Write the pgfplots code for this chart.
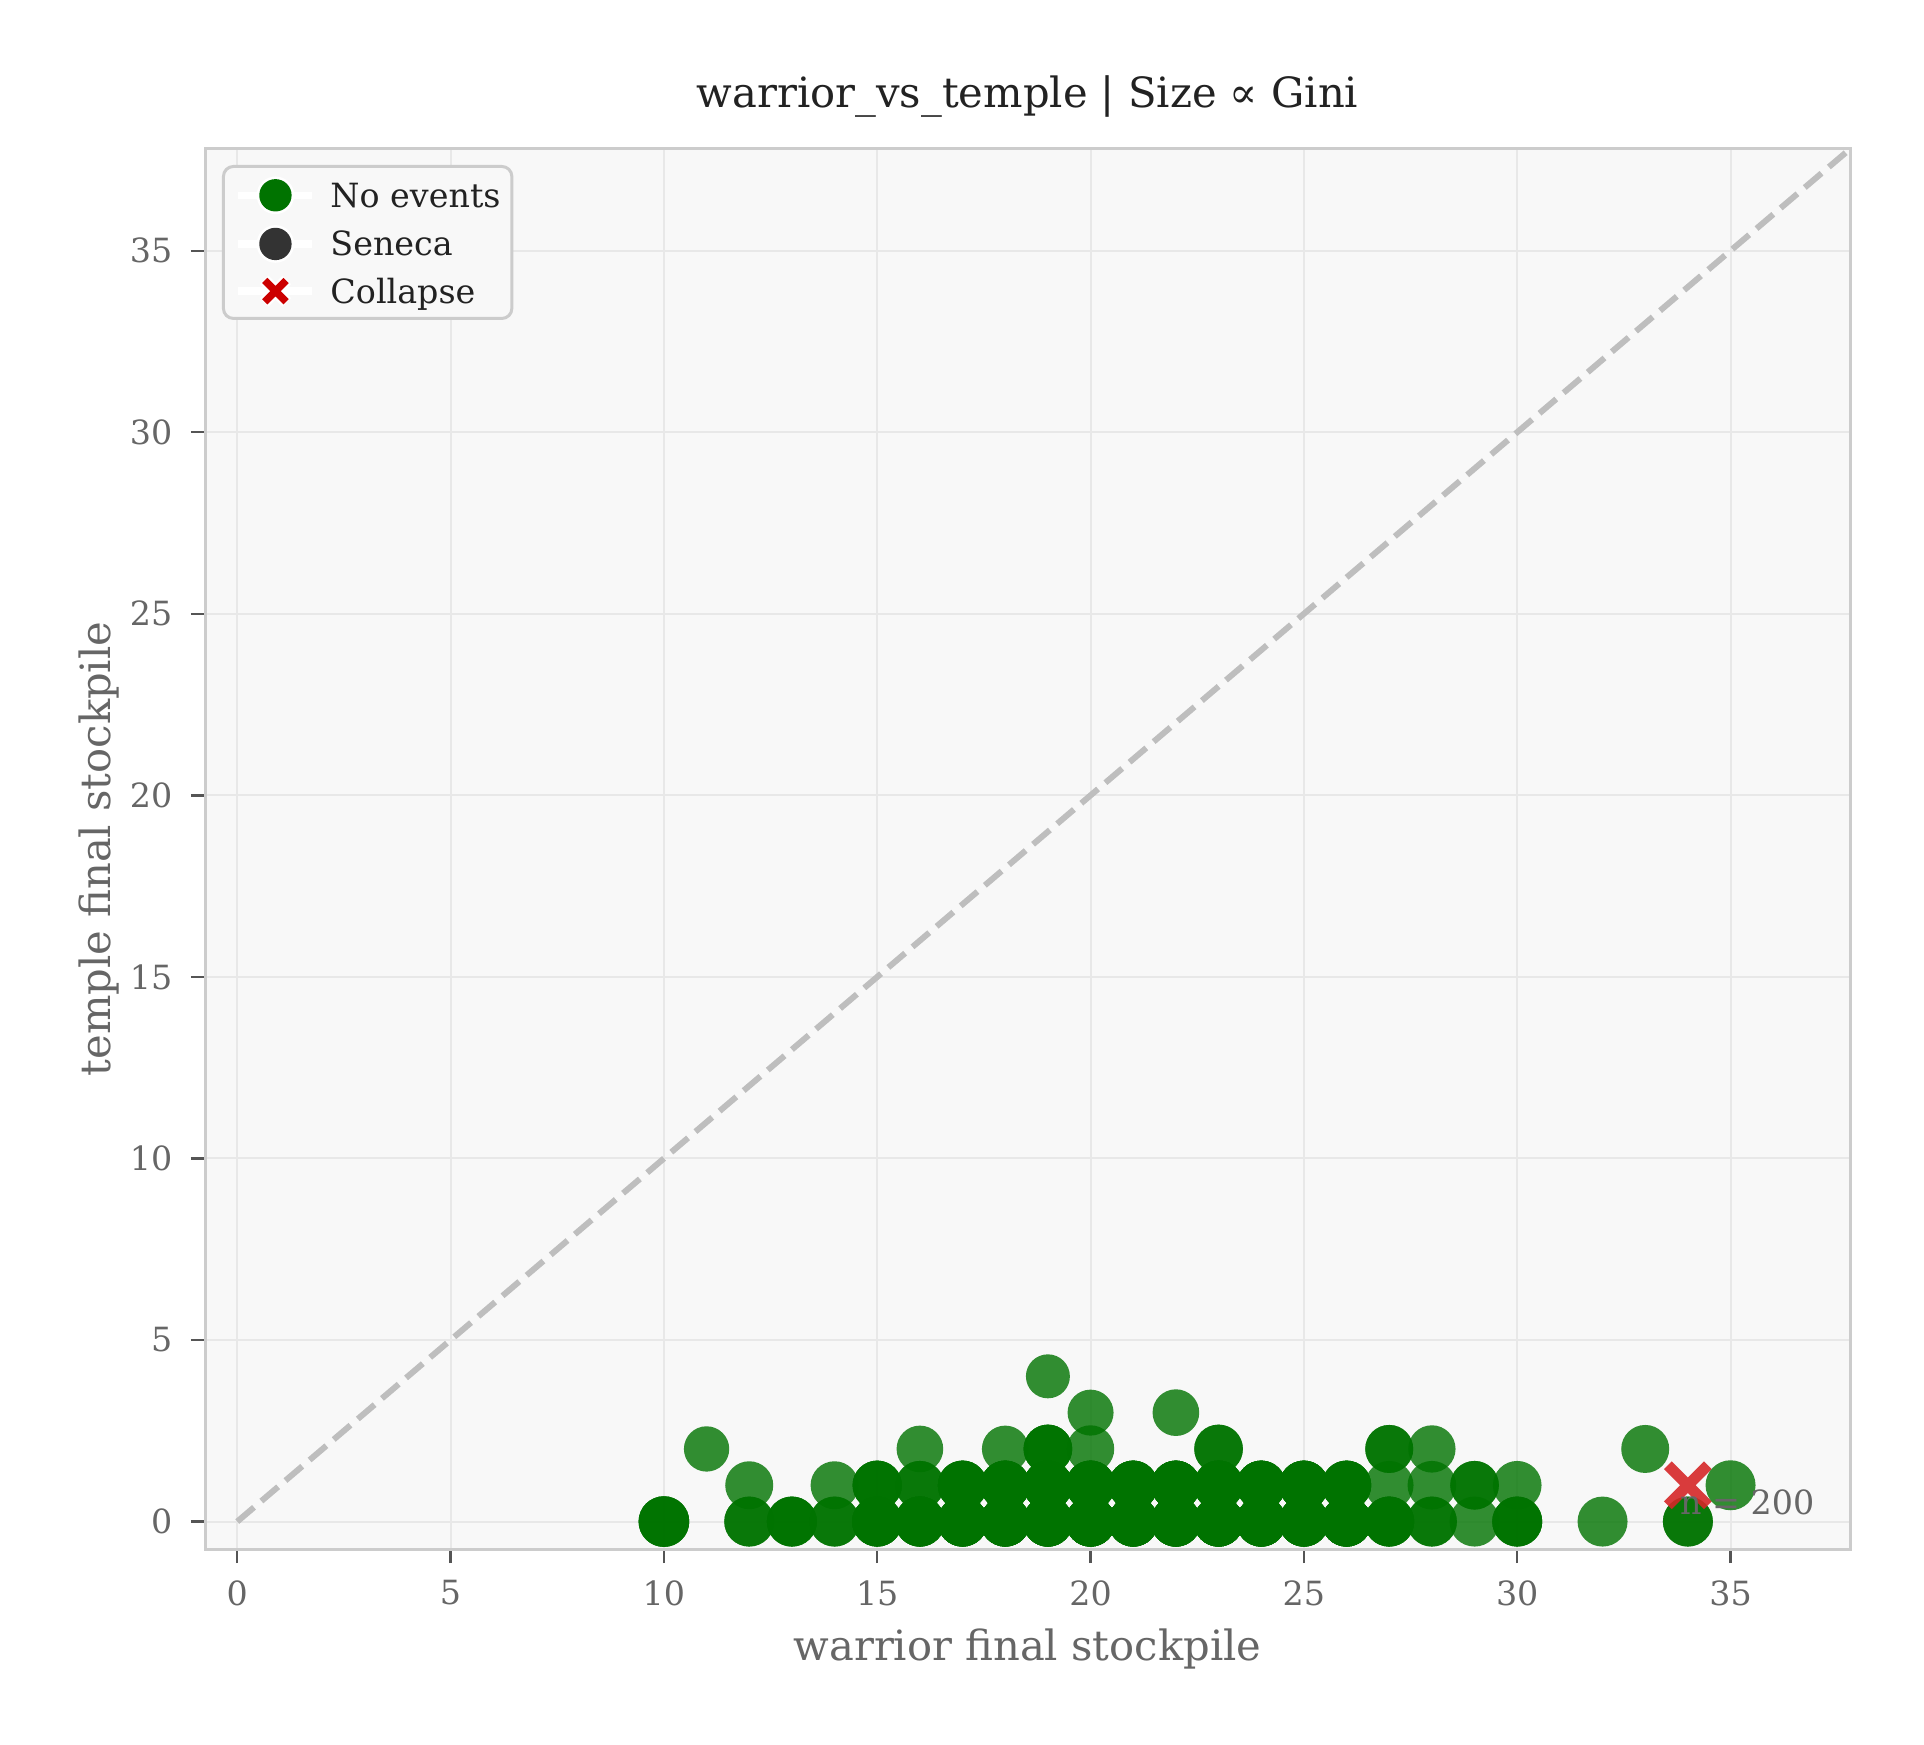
\documentclass[border=0pt]{standalone}
\usepackage{pgfplots}
\pgfplotsset{compat=1.18}
\usepackage{fontspec}
\setmainfont{DejaVu Serif}
\definecolor{ngreen}{RGB}{0,115,0}
\definecolor{cred}{RGB}{214,39,40}
\definecolor{lred}{RGB}{204,0,0}
\definecolor{sgray}{RGB}{51,51,51}
\definecolor{bggray}{RGB}{248,248,248}
\definecolor{spinegray}{RGB}{204,204,204}
\definecolor{gridgray}{RGB}{232,232,232}
\definecolor{tickgray}{RGB}{85,85,85}
\definecolor{labgray}{RGB}{102,102,102}
\definecolor{titlegray}{RGB}{34,34,34}
\definecolor{diaggray}{RGB}{190,190,190}
\begin{document}
\begin{tikzpicture}
\fill[white] (-61.5pt,-58.5pt) rectangle (515.7pt,464.7pt);
\begin{axis}[
  at={(0,0)}, anchor=south west,
  scale only axis, width=493.5pt, height=420pt,
  xmin=-0.756, xmax=37.8, ymin=-0.756, ymax=37.8,
  axis background/.style={fill=bggray},
  axis line style={draw=spinegray, line width=0.9pt},
  grid=major, major grid style={draw=gridgray, line width=0.6pt},
  tick pos=left, tick align=outside, major tick length=4.2pt,
  tick style={draw=tickgray, line width=0.7pt},
  xtick={0,5,10,15,20,25,30,35}, xticklabels={0,5,10,15,20,25,30,35},
  ytick={0,5,10,15,20,25,30,35}, yticklabels={0,5,10,15,20,25,30,35},
  ticklabel style={font=\fontsize{10}{12}\selectfont, text=labgray, inner sep=0pt},
  xticklabel style={anchor=north, yshift=-5.1pt},
  yticklabel style={anchor=east, xshift=-5.4pt},
  title={warrior\_vs\_temple | Size ∝ Gini},
  every axis title/.style={at={(axis description cs:0.5,1.0293)}, anchor=base, inner sep=0pt, font=\fontsize{12.5}{15}\selectfont, text=titlegray},
  xlabel={warrior final stockpile},
  ylabel={temple final stockpile},
  every axis x label/.style={at={(axis description cs:0.5,-0.0795)}, anchor=base, inner sep=0pt, font=\fontsize{12.5}{15}\selectfont, text=labgray},
  every axis y label/.style={at={(axis description cs:-0.0577,0.5)}, rotate=90, anchor=base, inner sep=0pt, font=\fontsize{12.5}{15}\selectfont, text=labgray},
  legend style={at={(axis description cs:0.0103,0.9886)}, anchor=north west,
    draw=spinegray, fill=bggray, line width=0.9pt, rounded corners=3pt,
    inner xsep=3.4pt, inner ysep=3pt, row sep=3.3pt, column sep=4.3pt,
    font=\fontsize{10}{12}\selectfont, text=titlegray,
    nodes={inner sep=0pt, text height=7.2pt, text depth=0pt}},
  legend cell align=left,
]
\addlegendimage{legend image code/.code={
  \draw[white, line width=2.2pt] (0pt,0pt) -- (22.2pt,0pt);
  \fill[white] (11.1pt,0pt) circle (5.2pt);
  \fill[ngreen] (11.1pt,0pt) circle (4.4pt);}}
\addlegendentry{No events}
\addlegendimage{legend image code/.code={
  \draw[white, line width=2.2pt] (0pt,0pt) -- (22.2pt,0pt);
  \fill[white] (11.1pt,0pt) circle (5.2pt);
  \fill[sgray] (11.1pt,0pt) circle (4.4pt);}}
\addlegendentry{Seneca}
\addlegendimage{legend image code/.code={
  \draw[white, line width=2.2pt] (0pt,0pt) -- (22.2pt,0pt);
  \draw[white, line width=3.6pt] (7.7pt,-3.4pt) -- (14.5pt,3.4pt) (7.7pt,3.4pt) -- (14.5pt,-3.4pt);
  \draw[lred, line width=2.2pt] (7.9pt,-3.2pt) -- (14.3pt,3.2pt) (7.9pt,3.2pt) -- (14.3pt,-3.2pt);}}
\addlegendentry{Collapse}

\addplot[forget plot, draw=diaggray, line width=1.8pt, dash pattern=on 6.6pt off 2.9pt] coordinates {(0,0) (37.8,37.8)};

\addplot[forget plot, scatter, only marks, mark=*,
  scatter/use mapped color={draw=ngreen, draw opacity=0, fill=ngreen, fill opacity=0.8},
  visualization depends on={\thisrow{s} \as \msz},
  scatter/@pre marker code/.append style={/tikz/mark size=\msz}]
  table[x=x, y=y, meta=y] {
x y s
10 0 7.6
10 0 7.6
10 0 7.6
11 2 6.8
12 1 7.2
12 0 7.5
12 0 7.5
13 0 7.5
13 0 7.5
13 0 7.5
14 1 7.2
14 0 7.5
14 0 7.5
15 1 7.4
15 1 7.4
15 1 7.4
15 0 7.5
15 0 7.5
15 0 7.5
15 0 7.5
15 0 7.5
16 2 7.0
16 1 7.3
16 1 7.3
16 0 7.5
16 0 7.5
16 0 7.5
16 0 7.5
16 0 7.5
16 0 7.5
17 1 7.4
17 1 7.4
17 1 7.4
17 1 7.4
17 0 7.5
17 0 7.5
17 0 7.5
17 0 7.5
17 0 7.5
17 0 7.5
17 0 7.5
18 2 7.0
18 1 7.4
18 1 7.4
18 1 7.4
18 1 7.4
18 1 7.4
18 0 7.5
18 0 7.5
18 0 7.5
18 0 7.5
18 0 7.5
18 0 7.5
18 0 7.5
18 0 7.5
19 4 6.6
19 2 7.3
19 2 7.3
19 2 7.3
19 1 7.4
19 1 7.4
19 1 7.4
19 1 7.4
19 1 7.4
19 1 7.4
19 0 7.5
19 0 7.5
19 0 7.5
19 0 7.5
19 0 7.5
19 0 7.5
19 0 7.5
19 0 7.5
19 0 7.5
20 3 6.9
20 2 7.1
20 1 7.4
20 1 7.4
20 1 7.4
20 1 7.4
20 1 7.4
20 1 7.4
20 0 7.5
20 0 7.5
20 0 7.5
20 0 7.5
20 0 7.5
20 0 7.5
20 0 7.5
20 0 7.5
20 0 7.5
21 1 7.4
21 1 7.4
21 1 7.4
21 1 7.4
21 1 7.4
21 0 7.5
21 0 7.5
21 0 7.5
21 0 7.5
21 0 7.5
21 0 7.5
21 0 7.5
21 0 7.5
21 0 7.5
22 3 7.0
22 1 7.4
22 1 7.4
22 1 7.4
22 1 7.4
22 1 7.4
22 1 7.4
22 0 7.5
22 0 7.5
22 0 7.5
22 0 7.5
22 0 7.5
22 0 7.5
22 0 7.5
22 0 7.5
22 0 7.5
23 2 7.3
23 2 7.3
23 1 7.4
23 1 7.4
23 1 7.4
23 1 7.4
23 1 7.4
23 0 7.5
23 0 7.5
23 0 7.5
23 0 7.5
23 0 7.5
23 0 7.5
23 0 7.5
23 0 7.5
23 0 7.5
24 1 7.4
24 1 7.4
24 1 7.4
24 1 7.4
24 1 7.4
24 0 7.5
24 0 7.5
24 0 7.5
24 0 7.5
24 0 7.5
24 0 7.5
24 0 7.5
24 0 7.5
24 0 7.5
25 1 7.4
25 1 7.4
25 1 7.4
25 1 7.4
25 1 7.4
25 0 7.5
25 0 7.5
25 0 7.5
25 0 7.5
25 0 7.5
25 0 7.5
25 0 7.5
25 0 7.5
26 1 7.4
26 1 7.4
26 1 7.4
26 1 7.4
26 0 7.5
26 0 7.5
26 0 7.5
26 0 7.5
26 0 7.5
26 0 7.5
26 0 7.5
26 0 7.5
27 2 7.2
27 2 7.2
27 1 7.3
27 0 7.5
27 0 7.5
27 0 7.5
27 0 7.5
28 2 7.1
28 1 7.3
28 0 7.5
28 0 7.5
29 1 7.3
29 1 7.3
29 0 7.5
30 1 7.3
30 0 7.5
30 0 7.5
30 0 7.5
32 0 7.5
33 2 7.2
34 0 7.5
34 0 7.5
};

\addplot[forget plot, only marks, mark=x, mark size=8.5pt,
  mark options={draw=cred, draw opacity=0.9, line width=3.3pt}] coordinates {(34,1)};

\addplot[forget plot, only marks, mark=*, mark size=7.5pt,
  mark options={draw=ngreen, draw opacity=0, fill=ngreen, fill opacity=0.8}] coordinates {(35,1)};
\end{axis}
\node[anchor=base east, inner sep=0pt, font=\fontsize{10}{12}\selectfont, text=labgray] at (483pt,10.5pt) {n = 200};
\pgfresetboundingbox
\path[use as bounding box] (-61.5pt,-58.5pt) rectangle (515.7pt,464.7pt);
\end{tikzpicture}
\end{document}
